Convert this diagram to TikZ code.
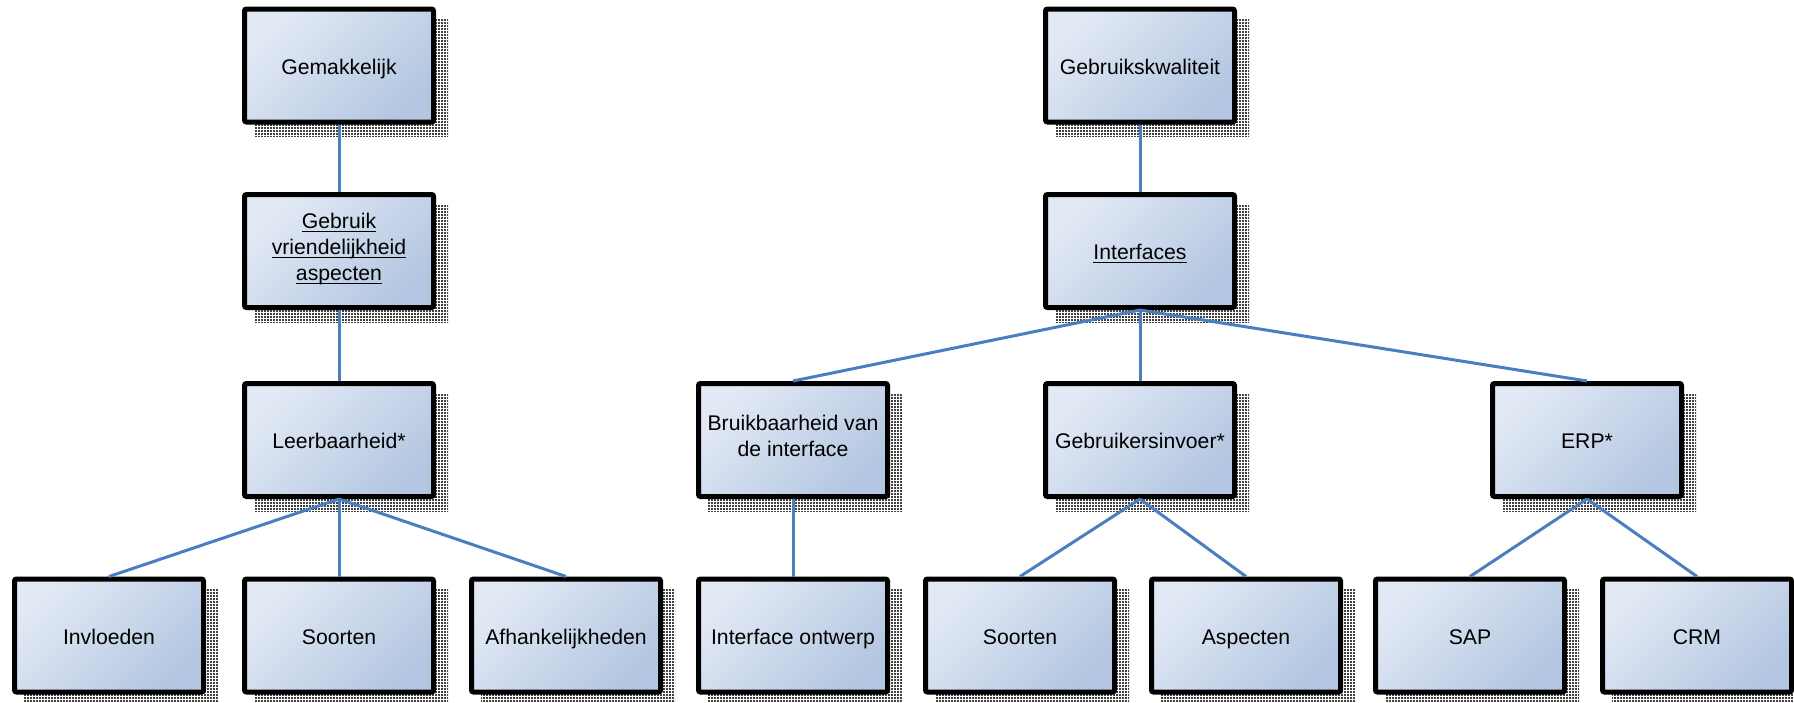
\documentclass[tikz,border=0pt]{standalone}
\usepackage{fontspec}
\setmainfont{Liberation Sans}
\usetikzlibrary{patterns}
\pgfdeclarelayer{background}
\pgfsetlayers{background,main}
\definecolor{boxlight}{RGB}{226,233,245}
\definecolor{boxmid}{RGB}{203,216,235}
\definecolor{boxdark}{RGB}{180,198,225}
\definecolor{linkblue}{RGB}{74,126,190}
% fine stipple used for the box shadows
\pgfdeclarepatternformonly{stipple}{\pgfqpoint{-0.1pt}{-0.1pt}}{\pgfqpoint{1.6pt}{1.6pt}}{\pgfqpoint{1.5pt}{1.5pt}}{%
  \pgfpathrectangle{\pgfqpoint{0pt}{0pt}}{\pgfqpoint{0.8pt}{0.8pt}}\pgfusepath{fill}}
% underline at a fixed distance below the baseline, crossing descenders
\newcommand\ulword[1]{\underline{\raisebox{0pt}[\height][0pt]{#1}}}
% struts that keep the text block evenly placed in its box
\newcommand\topstrut{\rule{0pt}{12.4pt}}
\newcommand\botstrut{\rule[-3.9pt]{0pt}{0pt}}
\tikzset{
  topic/.style={draw=black, line width=2.5pt, rounded corners=1pt,
    top color=boxlight, bottom color=boxdark, middle color=boxmid, shading angle=45,
    minimum width=94.5pt, minimum height=56.5pt, align=center,
    font=\fontsize{10.6}{12.9}\selectfont, text=black, inner sep=2pt,
    execute at begin node=\topstrut, execute at end node=\botstrut},
  link/.style={draw=linkblue, line width=1.5pt},
  boxshadow/.style={pattern=stipple, pattern color=black!75}
}
\begin{document}
\begin{tikzpicture}[x=0.5pt,y=-0.5pt]
\useasboundingbox (0,0) rectangle (1794,702);

% left tree
\node[topic] (gem) at (339,65.5) {Gemakkelijk};
\node[topic] (gvr) at (339,251) {\ulword{Gebruik}\\\ulword{vriendelijkheid}\\\ulword{aspecten}};
\node[topic] (lee) at (339,440) {Leerbaarheid*};
\node[topic] (inv) at (109,635.5) {Invloeden};
\node[topic] (soa) at (339,635.5) {Soorten};
\node[topic] (afh) at (566,635.5) {Afhankelijkheden};

% right tree
\node[topic] (gkw) at (1140,65.5) {Gebruikskwaliteit};
\node[topic] (itf) at (1140,251) {\ulword{Interfaces}};
\node[topic] (bru) at (793,440) {Bruikbaarheid van\\de interface};
\node[topic] (gin) at (1140,440) {Gebruikersinvoer*};
\node[topic] (erp) at (1587,440) {ERP*};
\node[topic] (ion) at (793,635.5) {Interface ontwerp};
\node[topic] (sob) at (1020,635.5) {Soorten};
\node[topic] (asp) at (1246,635.5) {Aspecten};
\node[topic] (sap) at (1470,635.5) {SAP};
\node[topic] (crm) at (1697,635.5) {CRM};

% shadows behind every box
\begin{pgfonlayer}{background}
\foreach \n in {gem,gvr,lee,inv,soa,afh,gkw,itf,bru,gin,erp,ion,sob,asp,sap,crm}
  \path[boxshadow] ([shift={(12,12)}]\n.north west) rectangle ([shift={(12,12)}]\n.south east);
\end{pgfonlayer}

% connectors
\draw[link] (gem.south) -- (gvr.north);
\draw[link] (gvr.south) -- (lee.north);
\draw[link] (lee.south) -- (inv.north);
\draw[link] (lee.south) -- (soa.north);
\draw[link] (lee.south) -- (afh.north);

\draw[link] (gkw.south) -- (itf.north);
\draw[link] (itf.south) -- (bru.north);
\draw[link] (itf.south) -- (gin.north);
\draw[link] (itf.south) -- (erp.north);
\draw[link] (bru.south) -- (ion.north);
\draw[link] (gin.south) -- (sob.north);
\draw[link] (gin.south) -- (asp.north);
\draw[link] (erp.south) -- (sap.north);
\draw[link] (erp.south) -- (crm.north);
\end{tikzpicture}
\end{document}
